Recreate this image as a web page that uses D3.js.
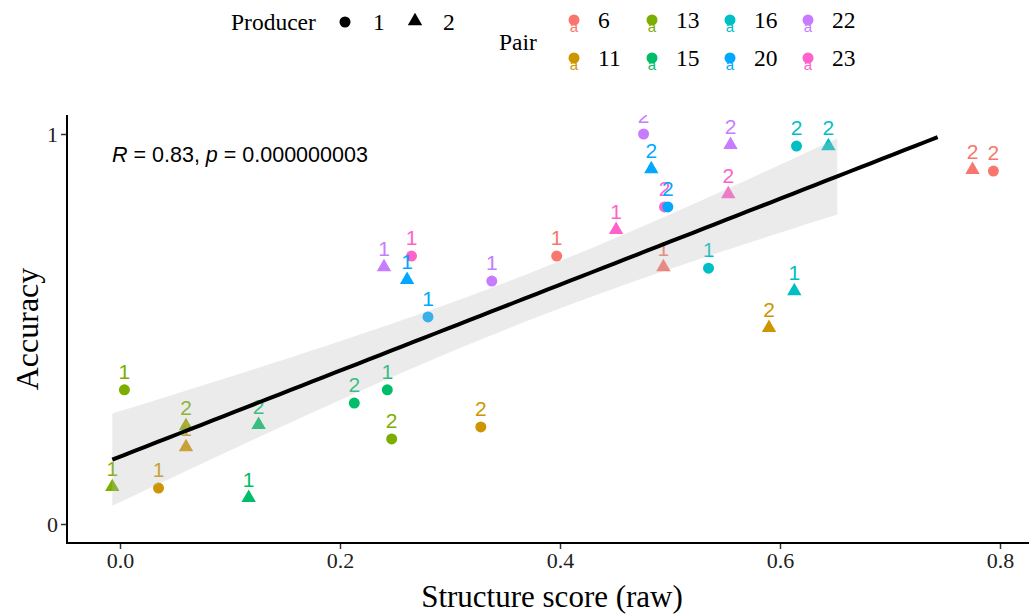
<!DOCTYPE html>
<html>
<head>
<meta charset="utf-8">
<script src="https://cdn.jsdelivr.net/npm/d3@7"></script>
<style>
  html, body { margin: 0; padding: 0; background: #ffffff; }
  svg { display: block; }
</style>
</head>
<body>
<svg id="chart" width="1029" height="614"></svg>
<script>
// ---- data ----
const pairs     = [13, 13, 11, 11, 13, 15, 15, 15, 15, 13, 11, 20, 22, 20, 23, 22, 6, 23, 6, 16, 16, 11, 23, 20, 20, 22, 22, 23, 16, 16, 6, 6];
const producers = [2, 1, 1, 2, 2, 2, 2, 1, 1, 1, 1, 1, 2, 2, 1, 1, 1, 2, 2, 1, 2, 2, 1, 1, 2, 1, 2, 2, 1, 2, 2, 1];
const labels    = [1, 1, 1, 1, 2, 1, 2, 2, 1, 2, 2, 1, 1, 1, 1, 1, 1, 1, 1, 1, 1, 2, 2, 2, 2, 2, 2, 2, 2, 2, 2, 2];
const structureScore = [-0.007, 0.004, 0.035, 0.060, 0.060, 0.117, 0.126, 0.213, 0.243, 0.247, 0.328, 0.280, 0.240, 0.261, 0.265, 0.338,
                        0.397, 0.451, 0.494, 0.535, 0.613, 0.590, 0.495, 0.498, 0.483, 0.476, 0.555, 0.553, 0.615, 0.644, 0.775, 0.794];
const accuracy = [0.095, 0.344, 0.092, 0.197, 0.251, 0.067, 0.254, 0.310, 0.344, 0.218, 0.249, 0.531, 0.659, 0.626, 0.687, 0.623,
                  0.687, 0.754, 0.659, 0.656, 0.597, 0.503, 0.813, 0.813, 0.910, 1.000, 0.972, 0.846, 0.969, 0.969, 0.908, 0.905];

const pairLevels = [6, 11, 13, 15, 16, 20, 22, 23];
const pairColors = ["#F8766D", "#CD9600", "#7CAE00", "#00BE67", "#00BFC4", "#00A9FF", "#C77CFF", "#FF61CC"];
const producerLevels = [1, 2];
const xTicks = [0, 0.2, 0.4, 0.6, 0.8];
const yTicks = [0, 1];
const annotation = { r: "0.83", p: "0.000000003" };

// ---- setup ----
const svg = d3.select("#chart");
const x = d3.scaleLinear().domain([0, 0.8]).range([120, 1000]);
const y = d3.scaleLinear().domain([0, 1]).range([524, 134]);
const color = d3.scaleOrdinal().domain(pairLevels).range(pairColors);
const shape = d3.scaleOrdinal().domain(producerLevels).range([d3.symbolCircle, d3.symbolTriangle]);
const symSize = p => p === 1 ? 95 : 90;

const panel = { left: 67, right: 1029, top: 115, bottom: 543 };

const data = pairs.map((p, i) => ({ pair: p, producer: producers[i], label: labels[i], x: structureScore[i], y: accuracy[i] }));

// ---- linear fit with 95% CI ----
const n = data.length;
const mx = d3.mean(data, d => d.x), my = d3.mean(data, d => d.y);
const sxx = d3.sum(data, d => (d.x - mx) ** 2);
const sxy = d3.sum(data, d => (d.x - mx) * (d.y - my));
const slope = sxy / sxx, intercept = my - slope * mx;
const rss = d3.sum(data, d => (d.y - intercept - slope * d.x) ** 2);
const s = Math.sqrt(rss / (n - 2));
const tcrit = 2.042;
const xmin = d3.min(data, d => d.x), xmax = d3.max(data, d => d.x);
const fit = d3.range(80).map(i => {
  const xv = xmin + (xmax - xmin) * i / 79;
  const yv = intercept + slope * xv;
  const se = s * Math.sqrt(1 / n + (xv - mx) ** 2 / sxx);
  return { x: xv, y: yv, lo: yv - tcrit * se, hi: yv + tcrit * se };
});
const lineData = fit.filter(d => d.y >= 0 && d.y <= 1);
const ribbonData = fit.filter(d => d.lo >= 0 && d.hi <= 1);

// ---- clip ----
svg.append("defs").append("clipPath").attr("id", "clip")
  .append("rect").attr("x", panel.left).attr("y", panel.top)
  .attr("width", panel.right - panel.left).attr("height", panel.bottom - panel.top);

const g = svg.append("g").attr("clip-path", "url(#clip)");

// points
g.selectAll("path.pt").data(data).enter().append("path")
  .attr("class", "pt")
  .attr("transform", d => `translate(${x(d.x)},${y(d.y)})`)
  .attr("d", d => d3.symbol().type(shape(d.producer)).size(symSize(d.producer))())
  .attr("fill", d => color(d.pair));

// labels
g.selectAll("text.lab").data(data).enter().append("text")
  .attr("class", "lab")
  .attr("x", d => x(d.x))
  .attr("y", d => y(d.y) - 11)
  .attr("text-anchor", "middle")
  .attr("font-family", "Liberation Sans, Arial, sans-serif")
  .attr("font-size", 21)
  .attr("fill", d => color(d.pair))
  .text(d => d.label);

// ribbon
g.append("path").datum(ribbonData)
  .attr("d", d3.area().x(d => x(d.x)).y0(d => y(d.lo)).y1(d => y(d.hi)))
  .attr("fill", "#bdbdbd").attr("fill-opacity", 0.3);

// line
g.append("path").datum(lineData)
  .attr("d", d3.line().x(d => x(d.x)).y(d => y(d.y)))
  .attr("fill", "none").attr("stroke", "#000").attr("stroke-width", 4);

// annotation
const ann = svg.append("text").attr("x", 112).attr("y", 162)
  .attr("font-family", "Liberation Sans, Arial, sans-serif").attr("font-size", 21.5).attr("fill", "#000");
ann.append("tspan").attr("font-style", "italic").text("R");
ann.append("tspan").text(` = ${annotation.r}, `);
ann.append("tspan").attr("font-style", "italic").text("p");
ann.append("tspan").text(` = ${annotation.p}`);

// ---- axes ----
const serif = "Liberation Serif, Times New Roman, serif";
const xAxis = svg.append("g").attr("transform", `translate(0,${panel.bottom})`)
  .call(d3.axisBottom(x).tickValues(xTicks).tickFormat(d3.format(".1f")).tickSize(6).tickSizeOuter(0));
xAxis.select(".domain").remove();
xAxis.selectAll("line").attr("stroke", "#333").attr("stroke-width", 1.5);
xAxis.selectAll("text").attr("font-family", serif).attr("font-size", 22).attr("fill", "#222").attr("dy", "0.85em").attr("y", 6);

const yAxis = svg.append("g").attr("transform", `translate(${panel.left},0)`)
  .call(d3.axisLeft(y).tickValues(yTicks).tickFormat(d3.format("d")).tickSize(6).tickSizeOuter(0));
yAxis.select(".domain").remove();
yAxis.selectAll("line").attr("stroke", "#333").attr("stroke-width", 1.5);
yAxis.selectAll("text").attr("font-family", serif).attr("font-size", 22).attr("fill", "#222").attr("x", -9);

svg.append("line").attr("x1", panel.left).attr("x2", panel.left).attr("y1", panel.top).attr("y2", panel.bottom + 1)
  .attr("stroke", "#000").attr("stroke-width", 2);
svg.append("line").attr("x1", panel.left - 1).attr("x2", panel.right).attr("y1", panel.bottom).attr("y2", panel.bottom)
  .attr("stroke", "#000").attr("stroke-width", 2);

// axis titles
svg.append("text").attr("x", 552).attr("y", 607).attr("text-anchor", "middle")
  .attr("font-family", serif).attr("font-size", 31).attr("fill", "#000").text("Structure score (raw)");
svg.append("text").attr("transform", "translate(38,329) rotate(-90)").attr("text-anchor", "middle")
  .attr("font-family", serif).attr("font-size", 32).attr("fill", "#000").text("Accuracy");

// ---- legends ----
const leg = svg.append("g");
leg.append("text").attr("x", 231).attr("y", 30).attr("font-family", serif).attr("font-size", 23.5).text("Producer");
producerLevels.forEach((p, i) => {
  const kx = 345 + i * 70;
  leg.append("path").attr("transform", `translate(${kx},${22 - (p === 2 ? 1 : 0)})`)
    .attr("d", d3.symbol().type(shape(p)).size(symSize(p))()).attr("fill", "#000");
  leg.append("text").attr("x", kx + 28).attr("y", 30).attr("font-family", serif).attr("font-size", 23.5).text(p);
});

leg.append("text").attr("x", 499).attr("y", 50).attr("font-family", serif).attr("font-size", 23.5).text("Pair");
pairLevels.forEach((p, i) => {
  const col = Math.floor(i / 2), row = i % 2;
  const kx = 574 + col * 78, ky = 20 + row * 38;
  leg.append("text").attr("x", kx).attr("y", ky + 12).attr("text-anchor", "middle")
    .attr("font-family", "Liberation Sans, Arial, sans-serif").attr("font-size", 15)
    .attr("fill", color(p)).text("a");
  leg.append("circle").attr("cx", kx).attr("cy", ky).attr("r", 5.5).attr("fill", color(p));
  leg.append("text").attr("x", kx + 24).attr("y", ky + 8).attr("font-family", serif).attr("font-size", 23.5).text(p);
});
</script>
</body>
</html>
